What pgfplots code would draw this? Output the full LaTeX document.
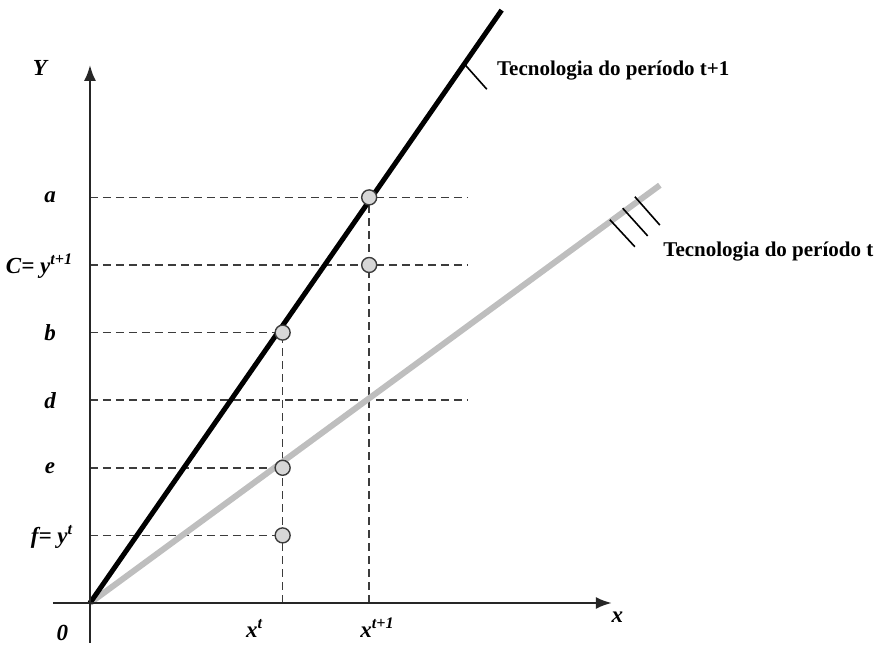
\documentclass[border=0pt]{standalone}
\usepackage{pgfplots}
\pgfplotsset{compat=1.18}
\usetikzlibrary{arrows.meta}
\usepackage{fontspec}
\setmainfont{Liberation Serif}
\definecolor{lgray}{RGB}{190,190,190}
\definecolor{cfill}{RGB}{215,215,215}
\definecolor{dgray}{RGB}{60,60,60}
\tikzset{lbl/.style={font=\fontsize{23bp}{27bp}\selectfont\bfseries\itshape, inner sep=1bp},
         tec/.style={font=\fontsize{21bp}{25bp}\selectfont\bfseries, inner sep=0bp}}
\begin{document}
\begin{tikzpicture}
\begin{axis}[
  x=67.6bp, y=67.6bp,
  xmin=-1.331, xmax=11.716, ymin=-0.636, ymax=8.92,
  hide axis, clip=false,
]
\addplot[draw=none] coordinates {(-1.331,-0.636) (11.716,8.92)};
% dashed guides
\pgfplotsset{guide/.style={dgray, line width=1.6bp, dash pattern=on 8bp off 5bp}}
\addplot[guide] coordinates {(0,6) (5.58,6)};
\addplot[guide] coordinates {(0,5) (5.58,5)};
\addplot[guide] coordinates {(0,4) (2.85,4)};
\addplot[guide] coordinates {(0,3) (5.58,3)};
\addplot[guide] coordinates {(0,2) (2.85,2)};
\addplot[guide] coordinates {(0,1) (2.85,1)};
\addplot[guide] coordinates {(2.85,0) (2.85,4)};
\addplot[guide] coordinates {(4.13,0) (4.13,6)};
% technology lines
\addplot[lgray, line width=6bp] coordinates {(0,0) (8.43,6.18)};
\addplot[black, line width=5bp] coordinates {(0,0) (6.09,8.77)};
% tick marks
\addplot[black, line width=1.6bp] coordinates {(5.55,7.96) (5.87,7.60)};
\addplot[black, line width=1.6bp] coordinates {(7.69,5.67) (8.06,5.27)};
\addplot[black, line width=1.6bp] coordinates {(7.88,5.84) (8.25,5.43)};
\addplot[black, line width=1.6bp] coordinates {(8.06,6.01) (8.43,5.59)};
% axes
\addplot[black!85, line width=2.4bp, -{Latex[length=16bp,width=12bp]}] coordinates {(-0.55,0) (7.72,0)};
\addplot[black!85, line width=2.4bp, -{Latex[length=16bp,width=12bp]}] coordinates {(0,-0.59) (0,7.96)};
% points
\addplot[only marks, mark=*, mark size=7.5bp, mark options={fill=cfill, draw=dgray, line width=1.4bp}]
  coordinates {(4.13,6) (4.13,5) (2.85,4) (2.85,2) (2.85,1)};
% labels
\node[lbl] at (axis cs:-0.74,7.91) {Y};
\node[lbl] at (axis cs:-0.59,6) {a};
\node[lbl, anchor=east] at (axis cs:-0.24,4.98) {C= y\textsuperscript{t+1}};
\node[lbl] at (axis cs:-0.59,4) {b};
\node[lbl] at (axis cs:-0.59,3) {d};
\node[lbl] at (axis cs:-0.59,2) {e};
\node[lbl, anchor=east] at (axis cs:-0.24,0.98) {f= y\textsuperscript{t}};
\node[lbl] at (axis cs:-0.41,-0.44) {0};
\node[lbl] at (axis cs:7.80,-0.21) {x};
\node[lbl] at (axis cs:2.43,-0.37) {x\textsuperscript{t}};
\node[lbl] at (axis cs:4.25,-0.37) {x\textsuperscript{t+1}};
\node[tec, anchor=base west] at (axis cs:6.02,7.80) {Tecnologia do período t+1};
\node[tec, anchor=base west] at (axis cs:8.48,5.12) {Tecnologia do período t};
\end{axis}
\end{tikzpicture}
\end{document}
